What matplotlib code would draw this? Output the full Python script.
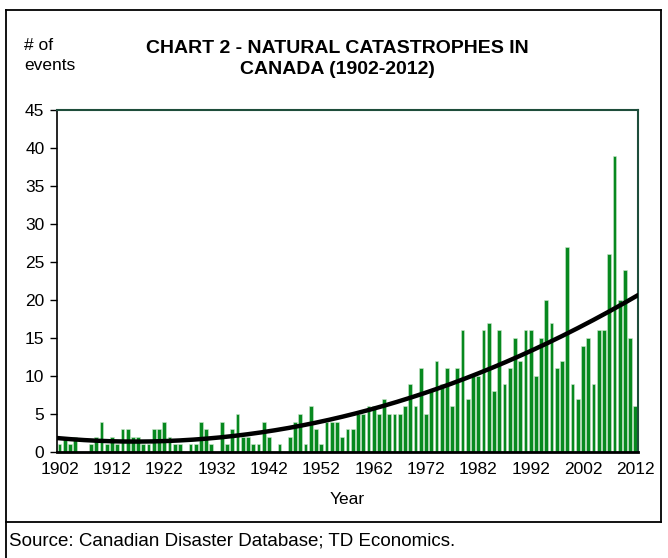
"""
plot.py

Chart 2 - Natural catastrophes in Canada (1902-2012), bar chart of the
number of events per year with a polynomial trend line.
"""

import matplotlib

matplotlib.use("Agg")
import matplotlib.pyplot as plt
import numpy as np
from matplotlib.lines import Line2D


# -------------------- Data -------------------- #

YEARS = list(range(1902, 2013))

EVENTS = [
    1, 2, 1, 2, 0, 0, 1, 2, 4, 1,          # 1902-1911
    2, 1, 3, 3, 2, 2, 1, 1, 3, 3,          # 1912-1921
    4, 2, 1, 1, 0, 1, 1, 4, 3, 1,          # 1922-1931
    0, 4, 1, 3, 5, 2, 2, 1, 1, 4,          # 1932-1941
    2, 0, 1, 0, 2, 4, 5, 1, 6, 3,          # 1942-1951
    1, 4, 4, 4, 2, 3, 3, 5, 5, 6,          # 1952-1961
    6, 5, 7, 5, 5, 5, 6, 9, 6, 11,         # 1962-1971
    5, 8, 12, 9, 11, 6, 11, 16, 7, 10,     # 1972-1981
    10, 16, 17, 8, 16, 9, 11, 15, 12, 16,  # 1982-1991
    16, 10, 15, 20, 17, 11, 12, 27, 9, 7,  # 1992-2001
    14, 15, 9, 16, 16, 26, 39, 20, 24, 15, # 2002-2011
    6,                                     # 2012
]

TICK_YEARS = list(range(1902, 2013, 10))

TITLE = "CHART 2 - NATURAL CATASTROPHES IN\nCANADA (1902-2012)"
SOURCE = "Source: Canadian Disaster Database; TD Economics."

FONT = ["Liberation Sans", "DejaVu Sans"]
BAR_COLOR = "#07891f"


# -------------------- Plot -------------------- #

def main():
    plt.rcParams["font.family"] = FONT

    fig = plt.figure(figsize=(6.68, 5.58), dpi=100)
    ax = fig.add_axes([0.0853, 0.19, 0.8697, 0.613])

    years = np.array(YEARS)
    events = np.array(EVENTS, dtype=float)

    ax.bar(years, events, width=0.72, color=BAR_COLOR,
           edgecolor="#cfe8cf", linewidth=0.4, zorder=2)

    # Excel-style 2nd order polynomial trend line
    coef = np.polyfit(years - years[0], events, 2)
    xs = np.linspace(years[0] - 0.5, years[-1] + 0.5, 300)
    ax.plot(xs, np.polyval(coef, xs - years[0]), color="black",
            linewidth=3.2, solid_capstyle="round", zorder=3)

    ax.set_xlim(years[0] - 0.5, years[-1] + 0.5)
    ax.set_ylim(0, 45)
    ax.set_yticks(range(0, 46, 5))
    ax.set_xticks(TICK_YEARS)
    ax.set_xticklabels([str(y) for y in TICK_YEARS])
    ax.tick_params(axis="y", direction="out", length=5, width=1,
                   labelsize=12.5, pad=4)
    ax.tick_params(axis="x", length=0, labelsize=12.5, pad=7)

    for side in ("top", "right"):
        ax.spines[side].set_color("#1e4d3b")
        ax.spines[side].set_linewidth(1.5)
    ax.spines["left"].set_linewidth(1.2)
    ax.spines["bottom"].set_linewidth(2)

    ax.set_xlabel("Year", fontsize=12.5, labelpad=11)

    fig.text(0.505, 0.894, TITLE, ha="center", va="center",
             fontsize=14, fontweight="bold", linespacing=1.35)
    fig.text(0.036, 0.9, "# of\nevents", ha="left", va="center",
             fontsize=12.5, linespacing=1.4)
    fig.text(0.014, 0.031, SOURCE, ha="left", va="center", fontsize=13.5)

    # outer frame of the chart
    frame = dict(color="black", linewidth=1.3, transform=fig.transFigure)
    top, sep, right, left = 1 - 10 / 558, 1 - 522 / 558, 661 / 668, 6 / 668
    fig.add_artist(Line2D([left, right], [top, top], **frame))
    fig.add_artist(Line2D([left, left], [0, top], **frame))
    fig.add_artist(Line2D([right, right], [sep, top], **frame))
    fig.add_artist(Line2D([left, right], [sep, sep], **frame))

    fig.savefig("out.png", dpi=100)
    plt.close(fig)


if __name__ == "__main__":
    main()
